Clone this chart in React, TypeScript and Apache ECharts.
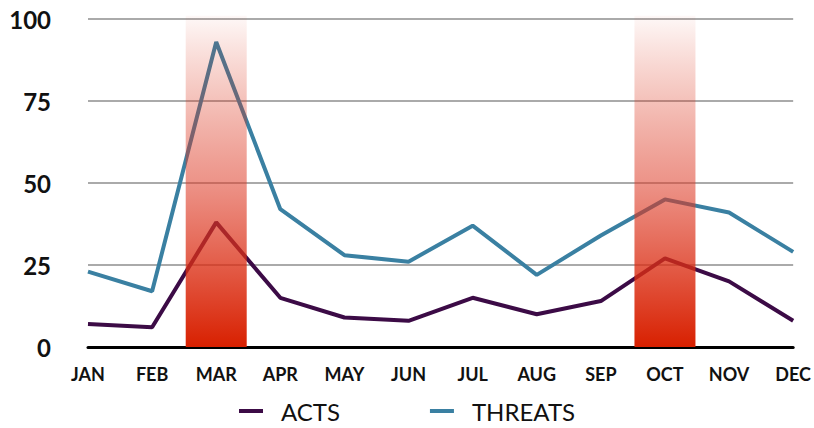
import React, { useEffect, useRef } from "react";
import * as echarts from "echarts";

const MONTHS = ["JAN", "FEB", "MAR", "APR", "MAY", "JUN", "JUL", "AUG", "SEP", "OCT", "NOV", "DEC"];
const ACTS = [7, 6, 38, 15, 9, 8, 15, 10, 14, 27, 20, 8];
const THREATS = [23, 17, 93, 42, 28, 26, 37, 22, 34, 45, 41, 29];
const BANDS = [null, null, 101, null, null, null, null, null, null, 101, null, null];

const FONT = "Lato, 'Noto Sans', sans-serif";

export default function App() {
  const ref = useRef<HTMLDivElement>(null);
  useEffect(() => {
    const chart = echarts.init(ref.current!, null, { renderer: "svg" });
    chart.setOption({
      animation: false,
      textStyle: { fontFamily: FONT },
      grid: { left: 88, right: 19, top: 19, bottom: 81 },
      legend: {
        data: ["ACTS", "THREATS"],
        bottom: 0,
        left: "center",
        icon: "rect",
        itemWidth: 24,
        itemHeight: 4,
        itemGap: 90,
        textStyle: { fontSize: 24, color: "#111", fontFamily: FONT, padding: [0, 0, 0, 13] },
      },
      xAxis: {
        type: "category",
        data: MONTHS,
        boundaryGap: false,
        axisLine: { lineStyle: { color: "#000", width: 3 } },
        axisTick: { show: false },
        axisLabel: { color: "#111", fontWeight: "bold", fontSize: 18, margin: 18, fontFamily: FONT },
      },
      yAxis: {
        type: "value",
        min: 0,
        max: 100,
        interval: 25,
        axisLine: { show: false },
        axisTick: { show: false },
        axisLabel: { color: "#111", fontWeight: "bold", fontSize: 24, margin: 37, fontFamily: FONT },
        splitLine: { lineStyle: { color: "#aaaaaa", width: 2 } },
      },
      series: [
        {
          name: "ACTS",
          type: "line",
          data: ACTS,
          symbol: "none",
          lineStyle: { color: "#3c0b46", width: 4 },
          itemStyle: { color: "#3c0b46" },
          z: 3,
        },
        {
          name: "THREATS",
          type: "line",
          data: THREATS,
          symbol: "none",
          lineStyle: { color: "#3a80a2", width: 4 },
          itemStyle: { color: "#3a80a2" },
          z: 3,
        },
        {
          name: "BAND",
          type: "bar",
          data: BANDS,
          barWidth: 61,
          clip: false,
          z: 10,
          silent: true,
          itemStyle: {
            color: new echarts.graphic.LinearGradient(0, 0, 0, 1, [
              { offset: 0, color: "rgba(216,34,4,0.03)" },
              { offset: 0.5, color: "rgba(222,60,40,0.55)" },
              { offset: 1, color: "rgba(216,32,0,1)" },
            ]),
          },
        },
      ],
    });
    return () => chart.dispose();
  }, []);
  return <div ref={ref} style={{ width: 814, height: 428, position: "absolute", left: 0, top: 0 }} />;
}
